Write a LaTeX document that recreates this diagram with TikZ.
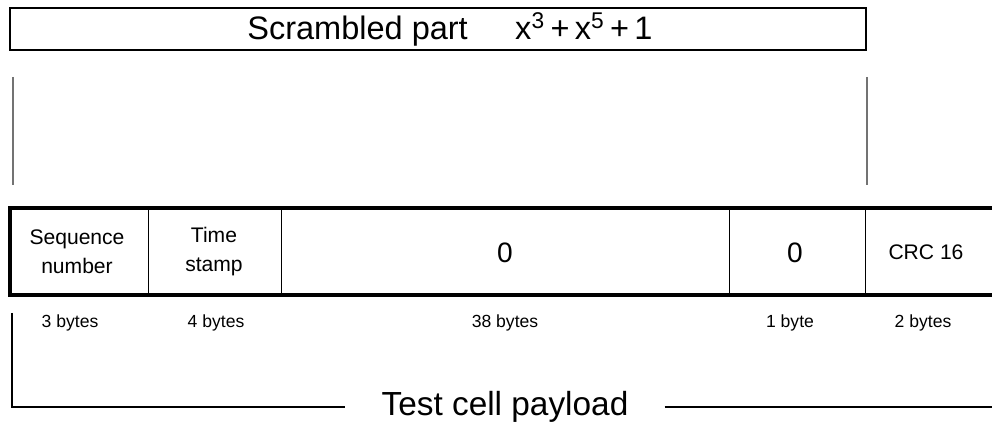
\documentclass[tikz,border=0pt]{standalone}
\usepackage{fontspec}
\setmainfont{Liberation Sans}
\usetikzlibrary{positioning}

\begin{document}
\begin{tikzpicture}[
    x=0.02cm, y=-0.02cm,
    every node/.style={inner sep=0pt},
    field/.style={font=\fontsize{12}{16.5}\selectfont, align=center},
    zero/.style={font=\fontsize{16}{18}\selectfont},
    size/.style={font=\fontsize{10}{12}\selectfont},
    big/.style={font=\fontsize{18.5}{21}\selectfont},
    frame/.style={line width=2.8pt},
    divider/.style={line width=0.55pt},
    guide/.style={line width=0.6pt, black!55}
]
\useasboundingbox (0,0) rectangle (992,432);

% scrambled part
\node[draw, line width=0.8pt, minimum width=17.12cm, minimum height=0.84cm] (scr) at (438,29) {};
\node[big] (scrtext) at (450,29)
    {Scrambled part\hspace{0.95cm}x\textsuperscript{3}\,+\,x\textsuperscript{5}\,+\,1};
\draw[guide] (13,77) -- (13,185);
\draw[guide] (867,77) -- (867,185);

% cell frame
\draw[frame] (992,208) -- (10,208) -- (10,295) -- (992,295);
\foreach \xx in {148,281,729,865}
    \draw[divider] (\xx,208) -- (\xx,295);

\node[field] (seq) at (77,252) {Sequence\\number};
\node[field] (time) at (214,252) {Time\\stamp};
\node[zero] (fill) at (505,253) {0};
\node[zero] (spare) at (795,253) {0};
\node[field] (crc) at (926,252) {CRC 16};

% sizes
\node[size] (s1) at (70,323) {3 bytes};
\node[size] (s2) at (216,323) {4 bytes};
\node[size] (s3) at (505,323) {38 bytes};
\node[size] (s4) at (790,323) {1 byte};
\node[size] (s5) at (923,323) {2 bytes};

% payload bracket
\node[big, font=\fontsize{19}{22}\selectfont, inner xsep=0.72cm] (payload) at (505,407) {Test cell payload};
\draw[line width=0.6pt] (12,313) |- (payload.west);
\draw[line width=0.6pt] (payload.east) -- (992,407);
\end{tikzpicture}
\end{document}
